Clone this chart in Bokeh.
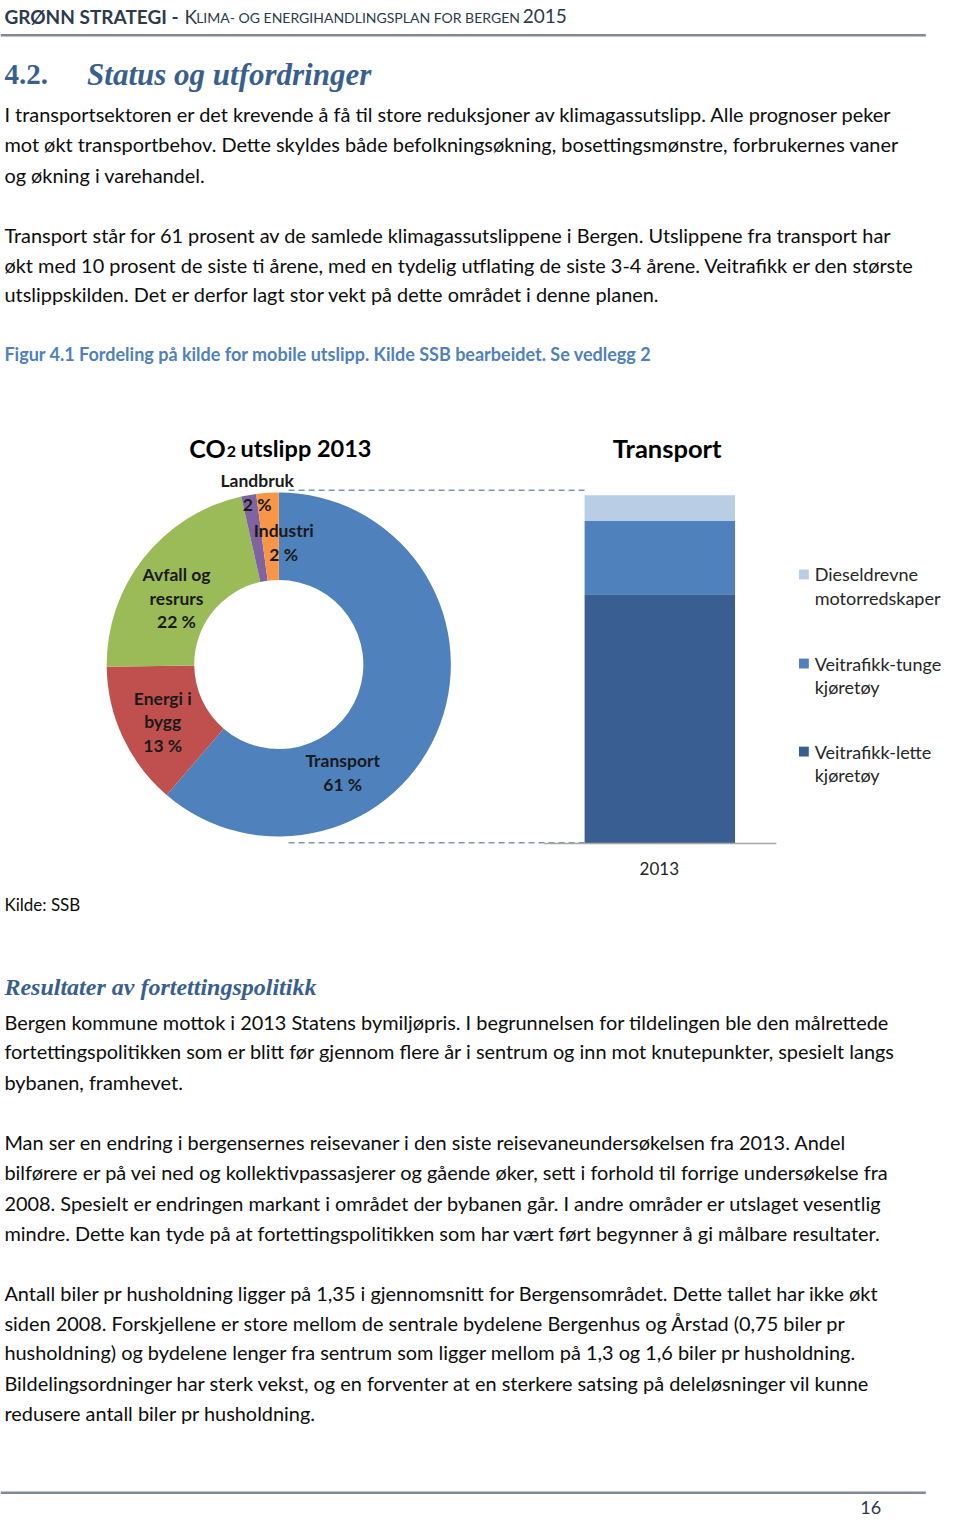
import numpy as np
from bokeh.plotting import figure
from bokeh.models import Range1d, ColumnDataSource
from bokeh.core.properties import value
from bokeh.embed import file_html
from bokeh.resources import INLINE

# ---------------- data ----------------
pie_categories = ["Transport", "Energi i bygg", "Avfall og resrurs", "Landbruk", "Industri"]
pie_shares = [61.3, 13.5, 21.7, 1.4, 2.1]
pie_pct_labels = ["61 %", "13 %", "22 %", "2 %", "2 %"]
pie_colors = ["#4F81BD", "#C0504D", "#9BBB59", "#8064A2", "#F79646"]

bar_years = ["2013"]
bar_series = ["Veitrafikk-lette kjøretøy", "Veitrafikk-tunge kjøretøy", "Dieseldrevne motorredskaper"]
bar_lette = [71.6]
bar_tunge = [21.0]
bar_diesel = [7.4]
bar_colors = ["#395F92", "#4F81BD", "#B9CDE5"]

# ---------------- page ----------------
W, H = 944, 1519
PAGE_W, PAGE_H = 960, 1535
FONT = "Lato"
SERIF = "Liberation Serif"
p = figure(width=W, height=H, x_range=Range1d(0, PAGE_W), y_range=Range1d(PAGE_H, 0),
           output_backend="svg", toolbar_location=None, min_border=0)
p.axis.visible = False
p.grid.visible = False
p.outline_line_color = None
p.background_fill_color = "white"


def txt(x, y, t, size, color="#000000", style="normal", font=FONT, align="left", baseline="middle"):
    p.text(x=x, y=y, text=t, text_font=value(font), text_font_size=f"{size}px",
           text_font_style=style, text_color=color, text_align=align, text_baseline=baseline)


# header
HDR = "#2C3B4C"
txt([4], [16], ["GRØNN STRATEGI -"], 19, HDR, "bold")
txt([187], [16], ["K"], 19, HDR)
txt([199], [17.5], ["LIMA- OG ENERGIHANDLINGSPLAN FOR BERGEN"], 14, HDR)
txt([531], [16], ["2015"], 19, HDR)
p.segment(x0=[0], y0=[35], x1=[941], y1=[35], line_color="#7F8A95", line_width=2.5)

# heading
HEAD = "#3A5F8F"
txt([4], [75], ["4.2."], 29, HEAD, "bold", SERIF)
txt([88], [75], ["Status og utfordringer"], 31, HEAD, "bold italic", SERIF)

BODY = "#0D0D0D"
body_lines = [
    (115, "I transportsektoren er det krevende å få til store reduksjoner av klimagassutslipp. Alle prognoser peker"),
    (145, "mot økt transportbehov. Dette skyldes både befolkningsøkning, bosettingsmønstre, forbrukernes vaner"),
    (176, "og økning i varehandel."),
    (237, "Transport står for 61 prosent av de samlede klimagassutslippene i Bergen. Utslippene fra transport har"),
    (267, "økt med 10 prosent de siste ti årene, med en tydelig utflating de siste 3-4 årene. Veitrafikk er den største"),
    (297, "utslippskilden. Det er derfor lagt stor vekt på dette området i denne planen."),
    (1032, "Bergen kommune mottok i 2013 Statens bymiljøpris. I begrunnelsen for tildelingen ble den målrettede"),
    (1062, "fortettingspolitikken som er blitt før gjennom flere år i sentrum og inn mot knutepunkter, spesielt langs"),
    (1093, "bybanen, framhevet."),
    (1154, "Man ser en endring i bergensernes reisevaner i den siste reisevaneundersøkelsen fra 2013. Andel"),
    (1184, "bilførere er på vei ned og kollektivpassasjerer og gående øker, sett i forhold til forrige undersøkelse fra"),
    (1215, "2008. Spesielt er endringen markant i området der bybanen går. I andre områder er utslaget vesentlig"),
    (1245, "mindre. Dette kan tyde på at fortettingspolitikken som har vært ført begynner å gi målbare resultater."),
    (1306, "Antall biler pr husholdning ligger på 1,35 i gjennomsnitt for Bergensområdet. Dette tallet har ikke økt"),
    (1336, "siden 2008. Forskjellene er store mellom de sentrale bydelene Bergenhus og Årstad (0,75 biler pr"),
    (1366, "husholdning) og bydelene lenger fra sentrum som ligger mellom på 1,3 og 1,6 biler pr husholdning."),
    (1397, "Bildelingsordninger har sterk vekst, og en forventer at en sterkere satsing på deleløsninger vil kunne"),
    (1427, "redusere antall biler pr husholdning."),
]
txt([4] * len(body_lines), [b[0] for b in body_lines], [b[1] for b in body_lines], 19.9, BODY)

# figure caption
txt([4], [357], ["Figur 4.1 Fordeling på kilde for mobile utslipp. Kilde SSB bearbeidet. Se vedlegg 2"],
    18, "#4F81BD", "bold")

# source note
txt([4], [914], ["Kilde: SSB"], 17, BODY)

# sub heading
txt([4], [997], ["Resultater av fortettingspolitikk"], 24, HEAD, "bold italic", SERIF)

# footer
p.segment(x0=[0], y0=[1508], x1=[941], y1=[1508], line_color="#7F8A95", line_width=2.5)
txt([885], [1523], ["16"], 18, HDR, align="center")

# ---------------- donut ----------------
CX, CY, R_OUT, R_IN = 283, 671, 175, 86
shares = np.array(pie_shares, dtype=float)
ang = shares / shares.sum() * 2 * np.pi
cum = np.concatenate([[0], np.cumsum(ang)])
pie_src = ColumnDataSource(dict(cat=pie_categories, color=pie_colors,
                                start=np.pi / 2 - cum[:-1], end=np.pi / 2 - cum[1:]))
p.annular_wedge(x=CX, y=CY, inner_radius=R_IN, outer_radius=R_OUT, start_angle="start",
                end_angle="end", direction="clock", fill_color="color", line_color=None,
                source=pie_src)

# chart titles
txt([229], [452], ["CO"], 25, "#000000", "bold", align="right")
txt([230], [456], ["2"], 16, "#000000", "bold")
txt([244], [452], ["utslipp 2013"], 23.5, "#000000", "bold")
txt([678], [452], ["Transport"], 25.5, "#000000", "bold", align="center")

# pie labels
PL = "#1A1A1A"
lab_x = [348, 165, 179, 261, 288]
lab_name = [["Transport"], ["Energi i", "bygg"], ["Avfall og", "resrurs"], ["Landbruk"], ["Industri"]]
lab_top = [768, 705, 580, 485, 536]
lx, ly, lt = [], [], []
for i in range(len(pie_categories)):
    lines = lab_name[i] + [pie_pct_labels[i]]
    for j, s in enumerate(lines):
        lx.append(lab_x[i]); ly.append(lab_top[i] + 24 * j); lt.append(s)
txt(lx, ly, lt, 17.5, PL, "bold", align="center")

# ---------------- stacked bar ----------------
BAR_BASE_Y, BAR_TOP_Y, BAR_FULL = 852, 500, 100.0
k = (BAR_BASE_Y - BAR_TOP_Y) / BAR_FULL
p.extra_y_ranges = {"bar": Range1d(start=(BAR_BASE_Y - PAGE_H) / k, end=BAR_BASE_Y / k)}
bar_src = ColumnDataSource(dict(year=bar_years, lette=bar_lette, tunge=bar_tunge, diesel=bar_diesel))
p.vbar_stack(["lette", "tunge", "diesel"], x=670.5, width=153, color=bar_colors,
             line_color=None, source=bar_src, y_range_name="bar")

# connector dashed lines
p.segment(x0=[293, 293], y0=[495, 851], x1=[594, 594], y1=[495, 851],
          line_color="#7F96B2", line_width=1.5, line_dash="6 4")
# category axis line
p.segment(x0=[553], y0=[852], x1=[789], y1=[852], line_color="#A6A6A6", line_width=1.5)
txt([670], [877], bar_years, 17, "#262626", align="center")

# legend (top to bottom: diesel, tunge, lette)
leg_names = [["Dieseldrevne", "motorredskaper"], ["Veitrafikk-tunge", "kjøretøy"], ["Veitrafikk-lette", "kjøretøy"]]
leg_cols = [bar_colors[2], bar_colors[1], bar_colors[0]]
leg_y = [580, 670, 759]
p.rect(x=[817] * 3, y=leg_y, width=10, height=10, fill_color=leg_cols, line_color=None)
gx, gy, gt = [], [], []
for i, nm in enumerate(leg_names):
    for j, s in enumerate(nm):
        gx.append(828); gy.append(leg_y[i] + 24 * j); gt.append(s)
txt(gx, gy, gt, 18, "#262626", align="left")

open("out.html", "w").write(file_html(p, INLINE))
